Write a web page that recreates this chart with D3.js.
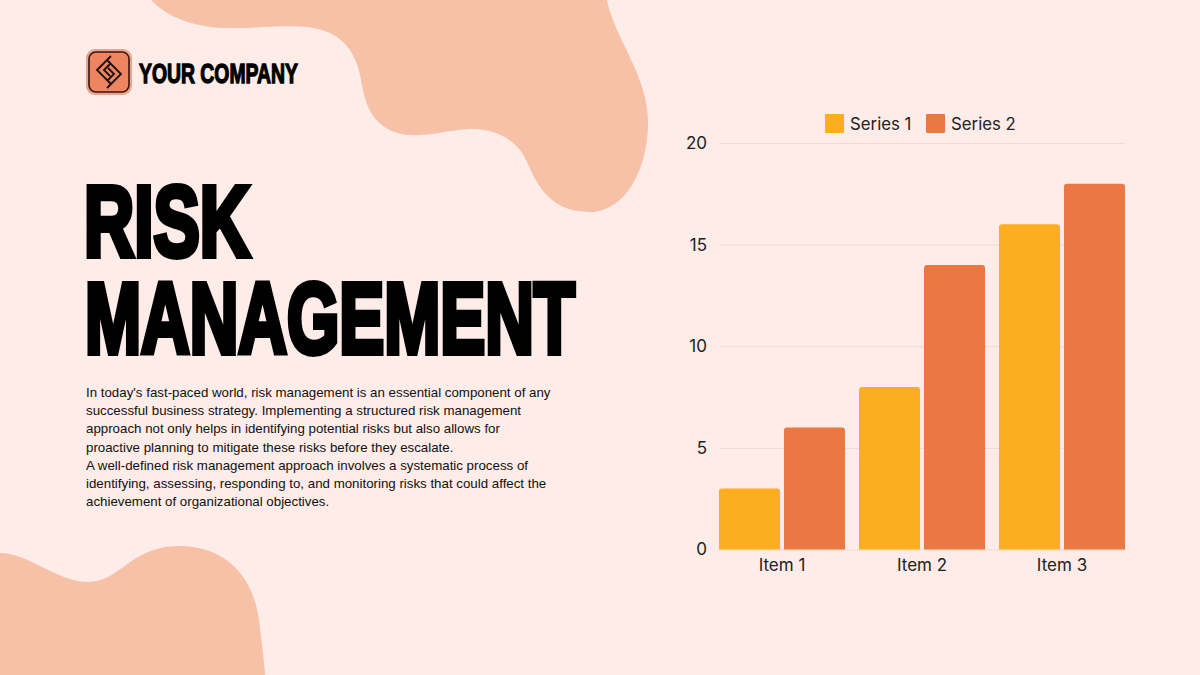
<!DOCTYPE html>
<html>
<head>
<meta charset="utf-8">
<script src="https://cdn.jsdelivr.net/npm/d3@7"></script>
<style>
html, body { margin: 0; padding: 0; background: #fdece7; }
svg { display: block; }
</style>
</head>
<body>
<svg id="vis" width="1200" height="675"></svg>
<script>
var categories = ["Item 1", "Item 2", "Item 3"];
var seriesNames = ["Series 1", "Series 2"];
var series1 = [3, 8, 16];
var series2 = [6, 14, 18];
var yTicks = [0, 5, 10, 15, 20];
var colors = ["#fdae20", "#ea7843"];
var bodyLines = [
  "In today's fast-paced world, risk management is an essential component of any",
  "successful business strategy. Implementing a structured risk management",
  "approach not only helps in identifying potential risks but also allows for",
  "proactive planning to mitigate these risks before they escalate.",
  "A well-defined risk management approach involves a systematic process of",
  "identifying, assessing, responding to, and monitoring risks that could affect the",
  "achievement of organizational objectives."
];

var svg = d3.select("#vis");
var heavy = "'Liberation Sans Narrow', 'Liberation Sans', sans-serif";
var chartFont = "Inter, sans-serif";

// background blobs
svg.append("path").attr("fill", "#f6c1a7")
  .attr("d", "M151,0 C165,15 190,27 225,28 C260,29 300,22 325,31 C350,40 358,62 361,80 C365,105 372,122 392,131 C415,141 445,130 470,129 C495,128 515,140 524,156 C535,178 545,212 590,212 C625,212 648,170 648,122 C648,75 615,40 607,0 Z");
svg.append("path").attr("fill", "#f6c1a7")
  .attr("d", "M0,553 C28,553 58,582 88,582 C120,582 130,547 178,546 C225,546 253,575 259,620 C262,645 264,660 265,675 L0,675 Z");

// logo
var logo = svg.append("g").attr("transform", "translate(86,49)");
logo.append("rect").attr("width", 46).attr("height", 46).attr("rx", 9).attr("fill", "#e9a58c");
logo.append("rect").attr("x", 3).attr("y", 3).attr("width", 40).attr("height", 40).attr("rx", 7)
  .attr("fill", "#ee8560").attr("stroke", "#3a1510").attr("stroke-width", 1.6);
logo.append("path").attr("fill", "none").attr("stroke", "#1c0c08").attr("stroke-width", 1.8)
  .attr("d", "M25,7 L11,21 L25,35 M21,39 L35,25 L21,11 M25,14 L18,21 L24,27 M21,32 L28,25 L22,19");

// stretch a heavy face to the width of the condensed display type
function fitted(label, left, baseline, width, size, stroke) {
  var t = svg.append("text").text(label)
    .attr("font-family", heavy).attr("font-weight", 700).attr("font-size", size)
    .attr("stroke", "#000").attr("stroke-width", stroke).attr("stroke-linejoin", "miter");
  var natural = t.node().getComputedTextLength();
  t.attr("transform", "translate(" + left + "," + baseline + ") scale(" + (width / natural) + ",1)");
}
fitted("YOUR COMPANY", 139, 83, 159, 27, 1.3);
fitted("RISK", 84, 255.5, 166, 100, 6);
fitted("MANAGEMENT", 85, 352.5, 490, 100, 6);

// body copy
svg.append("g").selectAll("text").data(bodyLines).join("text")
  .text(function(d) { return d; })
  .attr("x", 86)
  .attr("y", function(d, i) { return 397 + i * 18.2; })
  .attr("font-family", "'Liberation Sans', sans-serif").attr("font-size", 13.3)
  .attr("fill", "#111");

// chart
var x = d3.scaleBand().domain(categories).range([719, 1125]).paddingInner(0.1).paddingOuter(0);
var xInner = d3.scaleBand().domain(seriesNames).range([0, x.bandwidth()]).paddingInner(0.0615).paddingOuter(0);
var y = d3.scaleLinear().domain([0, 20]).range([549.5, 143]);
var color = d3.scaleOrdinal().domain(seriesNames).range(colors);

var yAxis = d3.axisLeft(y).tickValues(yTicks).tickSize(-406).tickPadding(12).tickFormat(d3.format("d"));
var yG = svg.append("g").attr("transform", "translate(719,0)").call(yAxis);
yG.select(".domain").remove();
yG.selectAll("line").attr("stroke", "#f2d9cf").attr("stroke-width", 1);
yG.selectAll("text").attr("font-family", chartFont).attr("font-size", 17).attr("fill", "#222");

var rows = categories.map(function(c, i) {
  return [{ cat: c, name: seriesNames[0], value: series1[i] }, { cat: c, name: seriesNames[1], value: series2[i] }];
});
function barPath(d) {
  var x0 = x(d.cat) + xInner(d.name), w = xInner.bandwidth(), top = y(d.value), bottom = y(0), r = 3;
  return "M" + x0 + "," + bottom + "V" + (top + r) + "Q" + x0 + "," + top + " " + (x0 + r) + "," + top +
    "H" + (x0 + w - r) + "Q" + (x0 + w) + "," + top + " " + (x0 + w) + "," + (top + r) + "V" + bottom + "Z";
}
svg.append("g").selectAll("path").data(d3.merge(rows)).join("path")
  .attr("d", barPath)
  .attr("fill", function(d) { return color(d.name); });

var xAxis = d3.axisBottom(x).tickSize(0).tickPadding(9);
var xG = svg.append("g").attr("transform", "translate(0,549.5)").call(xAxis);
xG.select(".domain").remove();
xG.selectAll("text").attr("font-family", chartFont).attr("font-size", 17).attr("fill", "#222");

// legend
var legend = svg.append("g").selectAll("g").data(seriesNames).join("g")
  .attr("transform", function(d, i) { return "translate(" + (825 + i * 101) + ",114)"; });
legend.append("rect").attr("width", 19).attr("height", 19).attr("rx", 1).attr("fill", function(d) { return color(d); });
legend.append("text").text(function(d) { return d; })
  .attr("x", 25).attr("y", 16)
  .attr("font-family", chartFont).attr("font-size", 16.8).attr("fill", "#222");
</script>
</body>
</html>
